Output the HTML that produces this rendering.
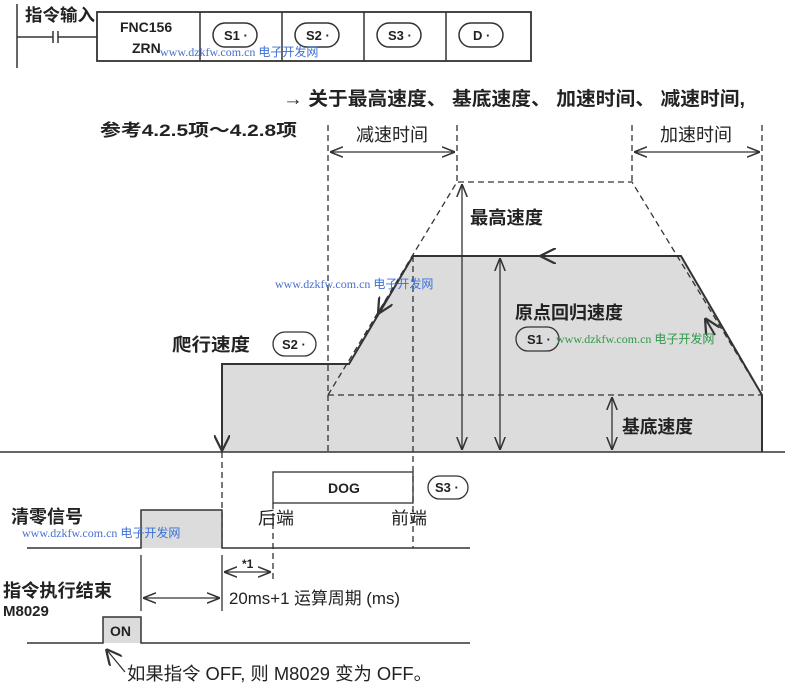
<!DOCTYPE html>
<html><head><meta charset="utf-8"><style>
html,body{margin:0;padding:0;background:#fff;}
svg{display:block;}
text{font-family:"Liberation Sans","Noto Sans CJK SC",sans-serif;fill:#222;}
.b{font-weight:bold;}
.wm{font-family:"Liberation Serif","Noto Sans CJK SC",serif;font-size:12px;}
</style></head><body>
<svg width="785" height="686" viewBox="0 0 785 686" xmlns="http://www.w3.org/2000/svg">
<defs>
<marker id="a" viewBox="0 0 10 10" refX="10" refY="5" markerWidth="13" markerHeight="13" orient="auto-start-reverse" markerUnits="userSpaceOnUse"><path d="M0,1 L10,5 L0,9" fill="none" stroke="#333" stroke-width="1.2"/></marker>
<marker id="b" viewBox="0 0 10 10" refX="10" refY="5" markerWidth="16" markerHeight="16" orient="auto" markerUnits="userSpaceOnUse"><path d="M0,0 L10,5 L0,10" fill="none" stroke="#333" stroke-width="1.4"/></marker>
</defs>
<g stroke="#333" fill="none" stroke-width="1.5">
<line x1="17" y1="4" x2="17" y2="68"/>
<line x1="17" y1="37" x2="53" y2="37"/>
<line x1="53" y1="31" x2="53" y2="43"/><line x1="58" y1="31" x2="58" y2="43"/>
<line x1="58" y1="37" x2="97" y2="37"/>
<rect x="97" y="12" width="434" height="49" stroke-width="1.8"/>
<line x1="200" y1="12" x2="200" y2="61"/><line x1="282" y1="12" x2="282" y2="61"/>
<line x1="364" y1="12" x2="364" y2="61"/><line x1="446" y1="12" x2="446" y2="61"/>
<rect x="213" y="23" width="44" height="24" rx="12"/>
<rect x="295" y="23" width="44" height="24" rx="12"/>
<rect x="377" y="23" width="44" height="24" rx="12"/>
<rect x="459" y="23" width="44" height="24" rx="12"/>
</g>
<polygon points="222,452 222,364 349,364 413,256 681,256 762,395 762,452" fill="#dcdcdc"/>
<g stroke="#333" fill="none">
<polyline points="222,452 222,364 349,364 413,256 681,256 762,395 762,452" stroke-width="2"/>
<g stroke-dasharray="6,4" stroke-width="1.3">
<line x1="328" y1="125" x2="328" y2="452"/>
<line x1="457" y1="125" x2="457" y2="182"/>
<line x1="632" y1="125" x2="632" y2="182"/>
<line x1="762" y1="125" x2="762" y2="395"/>
<polyline points="328,395 457,182 632,182 762,395"/>
<line x1="328" y1="395" x2="762" y2="395"/>
<line x1="413" y1="256" x2="413" y2="548"/>
<line x1="222" y1="452" x2="222" y2="548"/>
<line x1="273" y1="503" x2="273" y2="582"/>
</g>
<line x1="0" y1="452" x2="785" y2="452" stroke-width="1.5"/>
<g stroke-width="1.3">
<line x1="330" y1="152" x2="455" y2="152" marker-start="url(#a)" marker-end="url(#a)"/>
<line x1="634" y1="152" x2="760" y2="152" marker-start="url(#a)" marker-end="url(#a)"/>
<line x1="462" y1="184" x2="462" y2="450" marker-start="url(#a)" marker-end="url(#a)"/>
<line x1="500" y1="258" x2="500" y2="450" marker-start="url(#a)" marker-end="url(#a)"/>
<line x1="612" y1="397" x2="612" y2="450" marker-start="url(#a)" marker-end="url(#a)"/>
<line x1="222" y1="420" x2="222" y2="451" marker-end="url(#b)" stroke-width="2"/>
<line x1="570" y1="256" x2="540" y2="256" marker-end="url(#b)" stroke-width="2"/>
<line x1="388" y1="297" x2="378" y2="314" marker-end="url(#b)" stroke-width="2"/>
<line x1="715" y1="335" x2="705" y2="318" marker-end="url(#b)" stroke-width="2"/>
</g>
<rect x="273" y="472" width="140" height="31" stroke-width="1.3"/>
<rect x="428" y="476" width="40" height="23" rx="11.5" stroke-width="1.3"/>
<rect x="273" y="332" width="43" height="24" rx="12" stroke-width="1.3"/>
<rect x="516" y="327" width="43" height="24" rx="12" stroke-width="1.3"/>
<rect x="141" y="510" width="81" height="38" fill="#dcdcdc" stroke="none"/>
<polyline points="27,548 141,548 141,510 222,510 222,548 470,548" stroke-width="1.5"/>
<line x1="141" y1="555" x2="141" y2="611" stroke-width="1.3"/>
<line x1="222" y1="555" x2="222" y2="611" stroke-width="1.3"/>
<line x1="224" y1="572" x2="271" y2="572" marker-start="url(#a)" marker-end="url(#a)" stroke-width="1.3"/>
<line x1="143" y1="598" x2="220" y2="598" marker-start="url(#a)" marker-end="url(#a)" stroke-width="1.3"/>
<rect x="103" y="617" width="38" height="26" fill="#dcdcdc" stroke="none"/>
<polyline points="27,643 103,643 103,617 141,617 141,643 470,643" stroke-width="1.5"/>
<line x1="125" y1="672" x2="106" y2="649" marker-end="url(#b)" stroke-width="1.3"/>
</g>
<g lengthAdjust="spacingAndGlyphs">
<text x="25" y="21" font-size="17" class="b" textLength="70" lengthAdjust="spacingAndGlyphs">指令输入</text>
<text x="120" y="32" font-size="14" class="b">FNC156</text>
<text x="132" y="53" font-size="14" class="b">ZRN</text>
<text x="224" y="40" font-size="13" class="b">S1 ·</text>
<text x="306" y="40" font-size="13" class="b">S2 ·</text>
<text x="388" y="40" font-size="13" class="b">S3 ·</text>
<text x="473" y="40" font-size="13" class="b">D ·</text>
<text class="wm" x="160" y="56" style="fill:#4a6fd0">www.dzkfw.com.cn <tspan style="fill:#3a6fd8">电子开发网</tspan></text>
<text x="283" y="105" font-size="19" class="b" textLength="462" lengthAdjust="spacingAndGlyphs">→ 关于最高速度、 基底速度、 加速时间、 减速时间,</text>
<text x="100" y="136" font-size="17" class="b" textLength="197" lengthAdjust="spacingAndGlyphs">参考4.2.5项～4.2.8项</text>
<text x="356" y="141" font-size="18" textLength="72" lengthAdjust="spacingAndGlyphs">减速时间</text>
<text x="660" y="141" font-size="18" textLength="72" lengthAdjust="spacingAndGlyphs">加速时间</text>
<text x="470" y="224" font-size="18" class="b" textLength="73" lengthAdjust="spacingAndGlyphs">最高速度</text>
<text x="515" y="319" font-size="18" class="b" textLength="108" lengthAdjust="spacingAndGlyphs">原点回归速度</text>
<text x="527" y="344" font-size="13" class="b">S1 ·</text>
<text x="172" y="351" font-size="18" class="b" textLength="78" lengthAdjust="spacingAndGlyphs">爬行速度</text>
<text x="282" y="349" font-size="13" class="b">S2 ·</text>
<text x="622" y="433" font-size="18" class="b" textLength="71" lengthAdjust="spacingAndGlyphs">基底速度</text>
<text x="328" y="493" font-size="14" class="b">DOG</text>
<text x="435" y="492" font-size="13" class="b">S3 ·</text>
<text x="258" y="524" font-size="17" textLength="36" lengthAdjust="spacingAndGlyphs">后端</text>
<text x="391" y="524" font-size="17" textLength="36" lengthAdjust="spacingAndGlyphs">前端</text>
<text x="11" y="523" font-size="18" class="b" textLength="72" lengthAdjust="spacingAndGlyphs">清零信号</text>
<text x="242" y="568" font-size="12" class="b">*1</text>
<text x="229" y="604" font-size="17" textLength="171" lengthAdjust="spacingAndGlyphs">20ms+1 运算周期 (ms)</text>
<text x="3" y="597" font-size="18" class="b" textLength="109" lengthAdjust="spacingAndGlyphs">指令执行结束</text>
<text x="3" y="616" font-size="15" class="b">M8029</text>
<text x="110" y="636" font-size="14" class="b">ON</text>
<text x="127" y="680" font-size="18" textLength="305" lengthAdjust="spacingAndGlyphs">如果指令 OFF, 则 M8029 变为 OFF。</text>
<text class="wm" x="275" y="288" style="fill:#4a6fd0">www.dzkfw.com.cn <tspan style="fill:#3a6fd8">电子开发网</tspan></text>
<text class="wm" x="556" y="343" style="fill:#2e9a4a">www.dzkfw.com.cn 电子开发网</text>
<text class="wm" x="22" y="537" style="fill:#4a6fd0">www.dzkfw.com.cn <tspan style="fill:#3a6fd8">电子开发网</tspan></text>
</g>
</svg>
</body></html>
